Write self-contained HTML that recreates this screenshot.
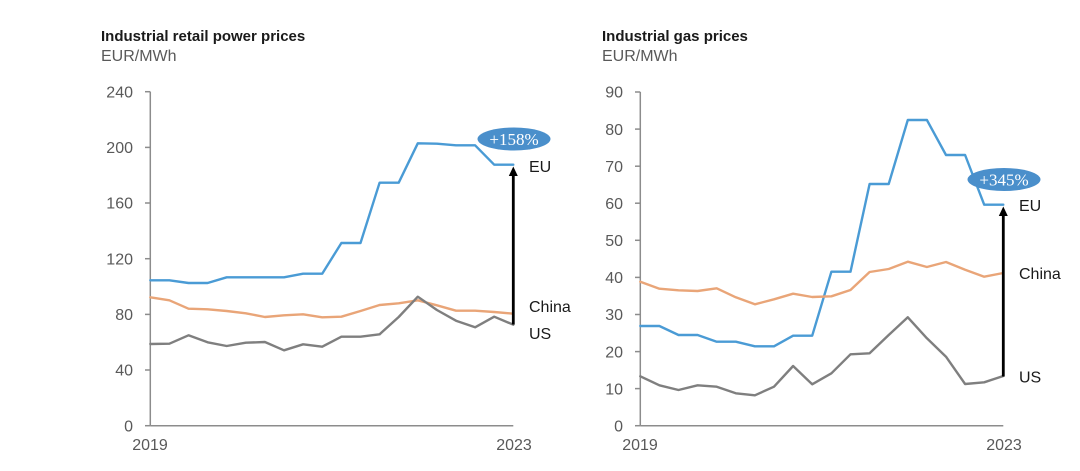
<!DOCTYPE html>
<html>
<head>
<meta charset="utf-8">
<style>
  html, body { margin: 0; padding: 0; background: #ffffff; }
  svg { display: block; }
  text { font-family: "Liberation Sans", Arial, sans-serif; }
  text.serif { font-family: "Liberation Serif", "Times New Roman", serif; }
</style>
</head>
<body>
<svg width="1080" height="471" viewBox="0 0 1080 471" xmlns="http://www.w3.org/2000/svg">
  <rect width="1080" height="471" fill="#ffffff"/>

  <!-- ================= LEFT CHART ================= -->
  <text x="101" y="41" font-size="15" font-weight="bold" fill="#1a1a1a">Industrial retail power prices</text>
  <text x="101" y="61" font-size="16" fill="#595959">EUR/MWh</text>

  <!-- axes -->
  <g stroke="#8c8c8c" stroke-width="1.5" fill="none">
    <line x1="150.3" y1="91.7" x2="150.3" y2="425.7"/>
    <line x1="150.3" y1="425.7" x2="513.3" y2="425.7"/>
    <line x1="145" y1="91.7" x2="150.3" y2="91.7"/>
    <line x1="145" y1="147.4" x2="150.3" y2="147.4"/>
    <line x1="145" y1="203.0" x2="150.3" y2="203.0"/>
    <line x1="145" y1="258.7" x2="150.3" y2="258.7"/>
    <line x1="145" y1="314.4" x2="150.3" y2="314.4"/>
    <line x1="145" y1="370.0" x2="150.3" y2="370.0"/>
    <line x1="145" y1="425.7" x2="150.3" y2="425.7"/>
  </g>
  <g font-size="16" fill="#595959" text-anchor="end">
    <text x="133" y="97.4">240</text>
    <text x="133" y="153.1">200</text>
    <text x="133" y="208.7">160</text>
    <text x="133" y="264.4">120</text>
    <text x="133" y="320.1">80</text>
    <text x="133" y="375.7">40</text>
    <text x="133" y="431.4">0</text>
  </g>
  <g font-size="16" fill="#595959" text-anchor="middle">
    <text x="150" y="450">2019</text>
    <text x="514" y="450">2023</text>
  </g>

  <!-- series -->
  <g fill="none" stroke-width="2.4" stroke-linejoin="round" stroke-linecap="round">
    <polyline stroke="#4a9bd5" points="150.3,280.3 169.4,280.3 188.5,283 207.6,283 226.7,277.3 245.8,277.3 264.9,277.3 284.0,277.3 303.1,273.7 322.2,273.7 341.4,243 360.5,243 379.6,182.7 398.7,182.7 417.8,143.3 436.9,143.7 456.0,145.3 475.1,145.3 494.2,164.7 513.3,164.7"/>
    <polyline stroke="#e9a578" points="150.3,297.3 169.4,300.3 188.5,308.7 207.6,309.3 226.7,311 245.8,313.3 264.9,317 284.0,315.3 303.1,314.3 322.2,317.3 341.4,316.7 360.5,311 379.6,305 398.7,303.3 417.8,300.3 436.9,305.3 456.0,310.7 475.1,310.7 494.2,312 513.3,313.7"/>
    <polyline stroke="#7f7f7f" points="150.3,344 169.4,343.7 188.5,335.3 207.6,342.3 226.7,346 245.8,342.7 264.9,342 284.0,350.3 303.1,344.3 322.2,346.7 341.4,336.7 360.5,336.7 379.6,334.3 398.7,317 417.8,296.7 436.9,310 456.0,320.7 475.1,327.3 494.2,316.7 513.3,324.7"/>
  </g>

  <!-- arrow -->
  <line x1="513.3" y1="324.5" x2="513.3" y2="174" stroke="#000" stroke-width="2.8"/>
  <polygon points="513.3,166.5 508.8,176 517.8,176" fill="#000"/>

  <!-- bubble -->
  <ellipse cx="514" cy="139" rx="36.5" ry="11.5" fill="#4a8fcb"/>
  <text class="serif" x="514" y="145" font-size="17" fill="#ffffff" text-anchor="middle">+158%</text>

  <!-- series labels -->
  <g font-size="16" fill="#1a1a1a">
    <text x="529" y="172">EU</text>
    <text x="529" y="312">China</text>
    <text x="529" y="339">US</text>
  </g>

  <!-- ================= RIGHT CHART ================= -->
  <text x="602" y="41" font-size="15" font-weight="bold" fill="#1a1a1a">Industrial gas prices</text>
  <text x="602" y="61" font-size="16" fill="#595959">EUR/MWh</text>

  <g stroke="#8c8c8c" stroke-width="1.5" fill="none">
    <line x1="640.3" y1="92" x2="640.3" y2="425.7"/>
    <line x1="640.3" y1="425.7" x2="1003.3" y2="425.7"/>
    <line x1="635" y1="92.0" x2="640.3" y2="92.0"/>
    <line x1="635" y1="129.1" x2="640.3" y2="129.1"/>
    <line x1="635" y1="166.2" x2="640.3" y2="166.2"/>
    <line x1="635" y1="203.2" x2="640.3" y2="203.2"/>
    <line x1="635" y1="240.3" x2="640.3" y2="240.3"/>
    <line x1="635" y1="277.4" x2="640.3" y2="277.4"/>
    <line x1="635" y1="314.5" x2="640.3" y2="314.5"/>
    <line x1="635" y1="351.6" x2="640.3" y2="351.6"/>
    <line x1="635" y1="388.6" x2="640.3" y2="388.6"/>
    <line x1="635" y1="425.7" x2="640.3" y2="425.7"/>
  </g>
  <g font-size="16" fill="#595959" text-anchor="end">
    <text x="623" y="97.7">90</text>
    <text x="623" y="134.8">80</text>
    <text x="623" y="171.9">70</text>
    <text x="623" y="208.9">60</text>
    <text x="623" y="246.0">50</text>
    <text x="623" y="283.1">40</text>
    <text x="623" y="320.2">30</text>
    <text x="623" y="357.3">20</text>
    <text x="623" y="394.3">10</text>
    <text x="623" y="431.4">0</text>
  </g>
  <g font-size="16" fill="#595959" text-anchor="middle">
    <text x="640" y="450">2019</text>
    <text x="1004" y="450">2023</text>
  </g>

  <g fill="none" stroke-width="2.4" stroke-linejoin="round" stroke-linecap="round">
    <polyline stroke="#4a9bd5" points="640.3,326 659.4,326 678.5,335 697.6,335 716.7,341.7 735.8,341.7 754.9,346.3 774.0,346.3 793.1,335.7 812.2,335.7 831.4,271.7 850.5,271.7 869.6,184 888.7,184 907.8,120 926.9,120 946.0,155 965.1,155 984.2,204.7 1003.3,204.7"/>
    <polyline stroke="#e9a578" points="640.3,281.7 659.4,288.7 678.5,290.3 697.6,291 716.7,288.3 735.8,297.3 754.9,304.3 774.0,299.3 793.1,293.7 812.2,297 831.4,296.3 850.5,290 869.6,272 888.7,269 907.8,261.7 926.9,267 946.0,262 965.1,269.7 984.2,276.7 1003.3,273"/>
    <polyline stroke="#7f7f7f" points="640.3,376.3 659.4,385.3 678.5,390 697.6,385.3 716.7,386.7 735.8,393.3 754.9,395.3 774.0,386.7 793.1,366 812.2,384.3 831.4,373.3 850.5,354.3 869.6,353.3 888.7,335 907.8,317.3 926.9,338.3 946.0,356.7 965.1,384 984.2,382.3 1003.3,376"/>
  </g>

  <line x1="1003.3" y1="376.5" x2="1003.3" y2="214" stroke="#000" stroke-width="2.8"/>
  <polygon points="1003.3,206.5 998.8,216 1007.8,216" fill="#000"/>

  <ellipse cx="1004" cy="179.5" rx="36.5" ry="11.5" fill="#4a8fcb"/>
  <text class="serif" x="1004" y="185.5" font-size="17" fill="#ffffff" text-anchor="middle">+345%</text>

  <g font-size="16" fill="#1a1a1a">
    <text x="1019" y="211">EU</text>
    <text x="1019" y="279">China</text>
    <text x="1019" y="382.5">US</text>
  </g>
</svg>
</body>
</html>
